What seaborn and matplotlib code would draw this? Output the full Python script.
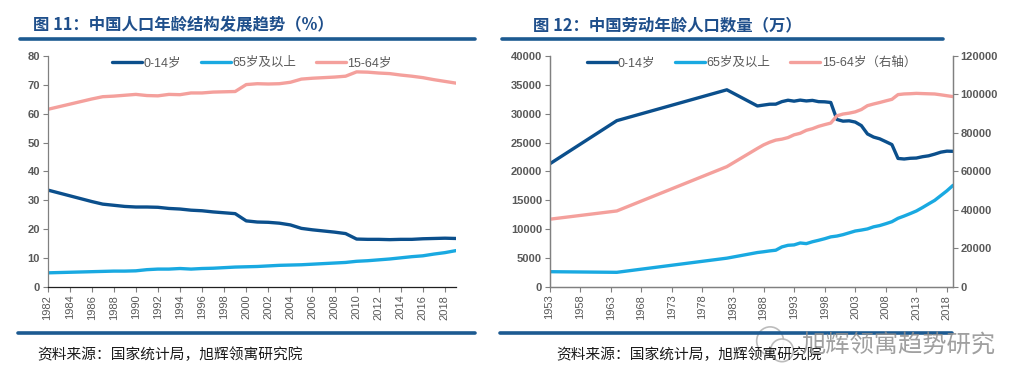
import numpy as np
import pandas as pd
import matplotlib
matplotlib.use('Agg')
import matplotlib.pyplot as plt
import seaborn as sns
from matplotlib.lines import Line2D
from matplotlib.patches import Ellipse

# 图11：年龄结构占比（%），1982-2019
share_years = list(range(1982, 2020))
child_share = [33.6, 32.6, 31.6, 30.6, 29.6, 28.7, 28.3, 27.9, 27.7, 27.7, 27.6, 27.2, 27.0,
               26.6, 26.4, 26.0, 25.7, 25.4, 22.9, 22.5, 22.4, 22.1, 21.5, 20.3, 19.8, 19.4,
               19.0, 18.5, 16.6, 16.5, 16.5, 16.4, 16.5, 16.5, 16.7, 16.8, 16.9, 16.8]
old_share = [4.9, 5.0, 5.1, 5.2, 5.3, 5.4, 5.5, 5.5, 5.6, 6.0, 6.2, 6.2, 6.4, 6.2, 6.4, 6.5,
             6.7, 6.9, 7.0, 7.1, 7.3, 7.5, 7.6, 7.7, 7.9, 8.1, 8.3, 8.5, 8.9, 9.1, 9.4, 9.7,
             10.1, 10.5, 10.8, 11.4, 11.9, 12.6]
work_share = [61.5, 62.4, 63.3, 64.2, 65.1, 65.9, 66.1, 66.4, 66.7, 66.3, 66.2, 66.7, 66.6,
              67.2, 67.2, 67.5, 67.6, 67.7, 70.1, 70.4, 70.3, 70.4, 70.9, 72.0, 72.3, 72.5,
              72.7, 73.0, 74.5, 74.4, 74.1, 73.9, 73.4, 73.0, 72.5, 71.8, 71.2, 70.6]

# 图12：人口数量（万）
pop_years = [1953, 1964, 1982, 1987, 1988, 1989] + list(range(1990, 2020))
child_pop = [21300, 28800, 34146, 31347, 31500, 31650, 31659, 32095, 32339, 32177, 32360,
             32218, 32311, 32093, 32064, 31950, 29012, 28716, 28774, 28559, 27947, 26504,
             25961, 25660, 25166, 24659, 22259, 22164, 22287, 22329, 22558, 22715, 23008,
             23348, 23523, 23492]
old_pop = [2650, 2540, 4991, 5968, 6100, 6250, 6368, 6938, 7218, 7289, 7622, 7510, 7833,
           8085, 8359, 8679, 8821, 9062, 9377, 9692, 9857, 10055, 10419, 10636, 10956, 11307,
           11894, 12288, 12714, 13161, 13755, 14386, 15003, 15831, 16658, 17603]
work_pop = [35200, 39500, 62517, 71985, 73800, 75200, 76306, 76791, 77614, 79051, 79868,
            81393, 82245, 83448, 84338, 85157, 88910, 89849, 90302, 90976, 92184, 94197,
            95068, 95833, 96680, 97484, 99938, 100283, 100403, 100582, 100469, 100361,
            100260, 99829, 99357, 98910]

C_CHILD = '#0b4f8c'
C_OLD = '#19a9e1'
C_WORK = '#f4a09c'
C_TITLE = '#1f4f8b'
C_BAR = '#1c5a91'
C_TICK = '#595959'

sns.set_theme(style='white')
plt.rcParams['font.family'] = ['Liberation Sans', 'Noto Sans CJK SC', 'DejaVu Sans']
plt.rcParams['axes.unicode_minus'] = False

fig = plt.figure(figsize=(10.33, 3.91), dpi=100)
ax1 = fig.add_axes([0.046, 0.266, 0.3954, 0.5908])
ax2 = fig.add_axes([0.532, 0.266, 0.3906, 0.5908])

lw = 2.4

# 左图
df1 = pd.DataFrame({'year': share_years, 'child': child_share, 'old': old_share, 'work': work_share})
sns.lineplot(data=df1, x='year', y='child', ax=ax1, color=C_CHILD, lw=lw, label='0-14岁')
sns.lineplot(data=df1, x='year', y='old', ax=ax1, color=C_OLD, lw=lw, label='65岁及以上')
sns.lineplot(data=df1, x='year', y='work', ax=ax1, color=C_WORK, lw=lw, label='15-64岁')
ax1.set_xlim(1982, 2019)
ax1.set_ylim(0, 80)
ax1.set_yticks(range(0, 81, 10))
ax1.set_xticks(range(1982, 2019, 2))
ax1.set_xticklabels([str(y) for y in range(1982, 2019, 2)], rotation=90)

# 右图
df2 = pd.DataFrame({'year': pop_years, 'child': child_pop, 'old': old_pop, 'work': work_pop})
ax2r = ax2.twinx()
sns.lineplot(data=df2, x='year', y='child', ax=ax2, color=C_CHILD, lw=lw, label='0-14岁')
sns.lineplot(data=df2, x='year', y='old', ax=ax2, color=C_OLD, lw=lw, label='65岁及以上')
sns.lineplot(data=df2, x='year', y='work', ax=ax2r, color=C_WORK, lw=lw, label='15-64岁（右轴）')
ax2.set_xlim(1953, 2019)
ax2.set_ylim(0, 40000)
ax2.set_yticks(range(0, 40001, 5000))
ax2r.set_ylim(0, 120000)
ax2r.set_yticks(range(0, 120001, 20000))
ax2.set_xticks(range(1953, 2019, 5))
ax2.set_xticklabels([str(y) for y in range(1953, 2019, 5)], rotation=90)

for ax in (ax1, ax2, ax2r):
    ax.set_xlabel('')
    ax.set_ylabel('')
    ax.grid(False)
    for s in ax.spines.values():
        s.set_color('#808080')
        s.set_linewidth(0.9)
    ax.tick_params(axis='both', which='both', direction='out', length=3.5, width=0.8,
                   color='#808080', labelsize=8, labelcolor=C_TICK, pad=2)
    for lab in ax.get_yticklabels():
        lab.set_fontweight('bold')

ax1.spines['top'].set_visible(False)
ax1.spines['right'].set_visible(False)
ax1.spines['bottom'].set_color('#202020')
ax2.spines['top'].set_visible(False)
ax2r.spines['top'].set_visible(False)
ax1.tick_params(axis='x', bottom=True)
ax2.tick_params(axis='x', bottom=True)
ax1.tick_params(axis='y', left=True)
ax2.tick_params(axis='y', left=True)
ax2r.tick_params(axis='y', right=True)

# 图例
leg_kw = dict(loc='upper center', bbox_to_anchor=(0.5, 1.045), ncol=3, frameon=False,
              handlelength=2.4, handletextpad=0.1, columnspacing=1.6, labelcolor=C_TICK,
              prop={'family': ['Liberation Sans', 'Noto Sans CJK SC'], 'size': 9})
h1, l1 = ax1.get_legend_handles_labels()
ax1.legend(h1, l1, **leg_kw)
h2, l2 = ax2.get_legend_handles_labels()
h3, l3 = ax2r.get_legend_handles_labels()
if ax2r.get_legend():
    ax2r.get_legend().remove()
ax2.legend(h2 + h3, l2 + l3, **leg_kw)

# 标题与装饰线
title_font = ['Noto Sans CJK SC', 'DejaVu Sans']
fig.text(0.032, 0.935, '图 11：中国人口年龄结构发展趋势（%）', color=C_TITLE, fontsize=11.8,
         fontweight='bold', family=title_font, va='center', ha='left')
fig.text(0.516, 0.935, '图 12：中国劳动年龄人口数量（万）', color=C_TITLE, fontsize=11.8,
         fontweight='bold', family=title_font, va='center', ha='left')
fig.add_artist(Line2D([0.019, 0.46], [0.8995, 0.8995], color=C_BAR, lw=2.6))
fig.add_artist(Line2D([0.486, 0.913], [0.8995, 0.8995], color=C_BAR, lw=2.6))
fig.add_artist(Line2D([0.0174, 0.46], [0.149, 0.149], color=C_BAR, lw=2.6))
fig.add_artist(Line2D([0.484, 0.9216], [0.149, 0.149], color=C_BAR, lw=2.6))

fig.text(0.036, 0.092, '资料来源：国家统计局，旭辉领寓研究院', fontsize=10.6, family=title_font,
         color='#1a1a1a', va='center', ha='left')
fig.text(0.539, 0.092, '资料来源：国家统计局，旭辉领寓研究院', fontsize=10.6, family=title_font,
         color='#1a1a1a', va='center', ha='left')

# 水印
fig.add_artist(Ellipse((0.7455, 0.128), 0.026, 0.072, transform=fig.transFigure,
                       facecolor='white', edgecolor='#b5b5b5', lw=1.2, alpha=0.9))
fig.add_artist(Ellipse((0.757, 0.104), 0.022, 0.058, transform=fig.transFigure,
                       facecolor='white', edgecolor='#b5b5b5', lw=1.2, alpha=0.9))
fig.text(0.776, 0.118, '旭辉领寓趋势研究', fontsize=17.5, family=title_font,
         color='#8f8f8f', alpha=0.85, va='center', ha='left')

fig.savefig('out.png', dpi=100)
